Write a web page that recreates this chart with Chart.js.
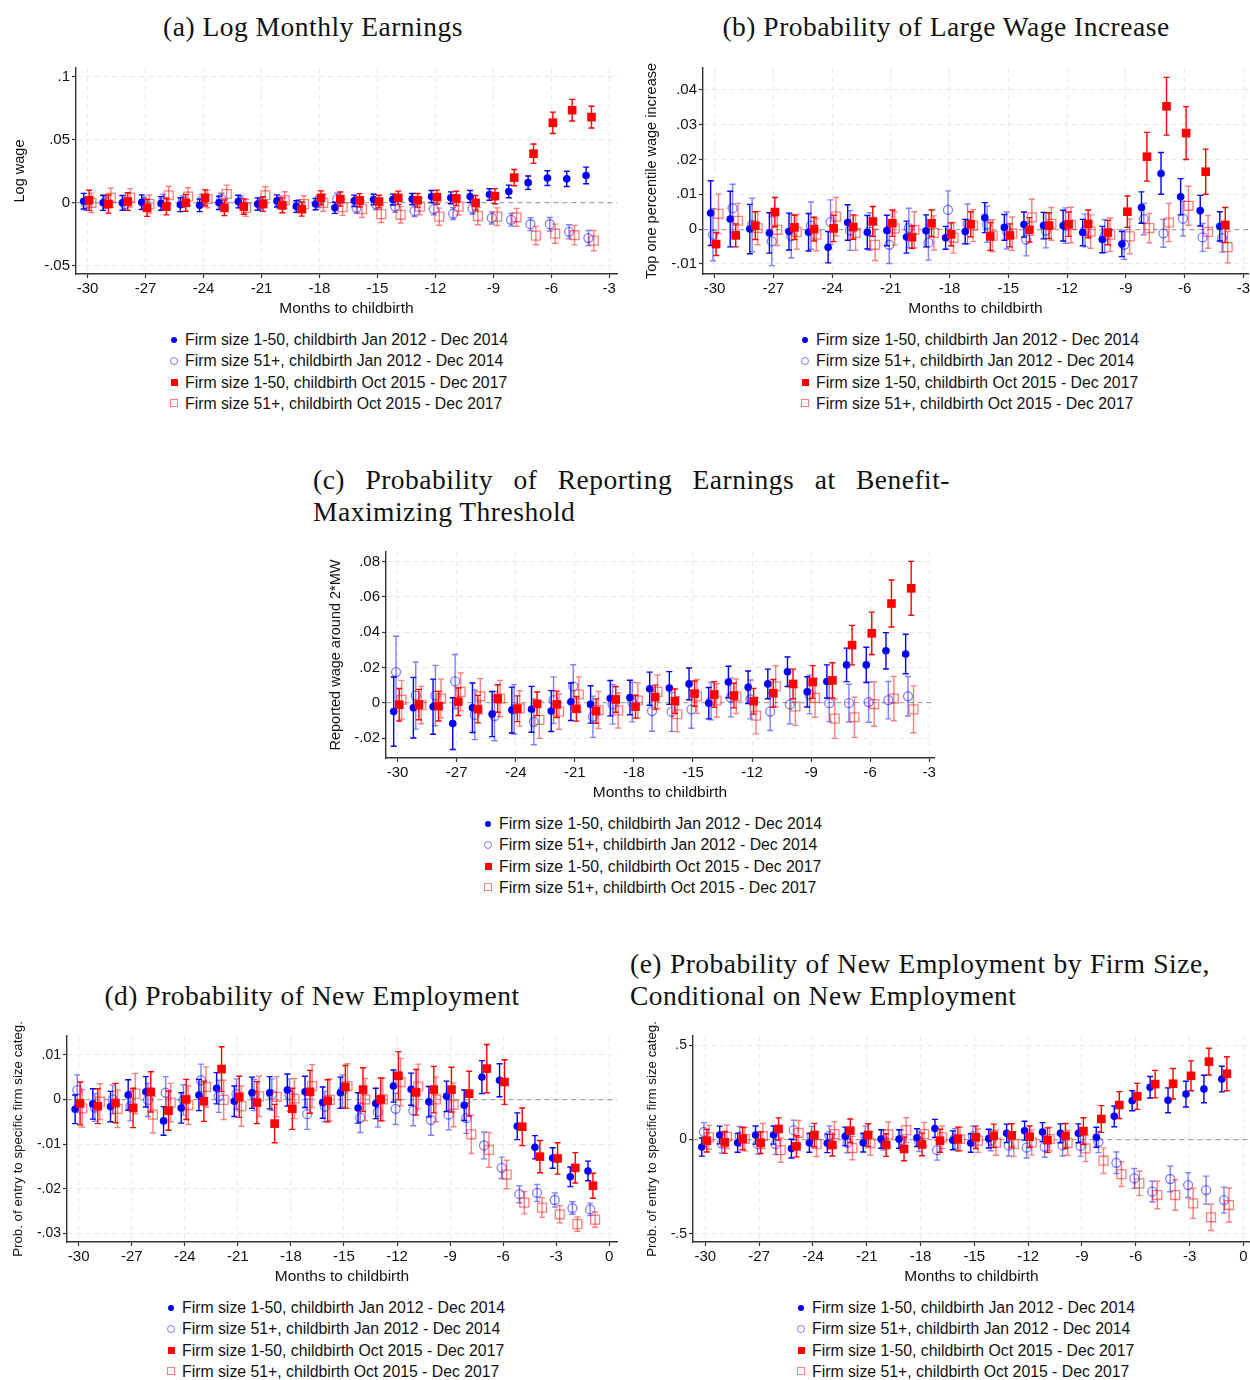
<!DOCTYPE html>
<html>
<head>
<meta charset="utf-8">
<script src="https://cdn.jsdelivr.net/npm/chart.js@4.4.1/dist/chart.umd.min.js"></script>
<style>
  html, body { margin: 0; padding: 0; background: #fff; }
  body { position: relative; width: 1250px; height: 1380px; overflow: hidden; }
  canvas { position: absolute; }
  .title { position: absolute; font-family: "Liberation Serif", "Times New Roman", serif; font-size: 27.5px;
           letter-spacing: 0.5px; line-height: 32px; color: #111; white-space: nowrap; }
  .title.center { transform: translateX(-50%); }
  .title .just { white-space: normal; text-align: justify; text-align-last: justify; }
  .legend { position: absolute; font-family: "Liberation Sans", Arial, sans-serif; font-size: 15.8px;
            line-height: 21.3px; color: #111; }
  .legend .row { position: relative; padding-left: 26px; white-space: nowrap; }
  .legend .mk { position: absolute; box-sizing: border-box; }
</style>
</head>
<body>

<div class="title center" style="left:313px; top:11px;">(a) Log Monthly Earnings</div>
<div class="title center" style="left:946px; top:11px;">(b) Probability of Large Wage Increase</div>
<div class="title" style="left:313px; top:464px; width:637px;">
  <div class="just">(c) Probability of Reporting Earnings at Benefit-</div>
  <div>Maximizing Threshold</div>
</div>
<div class="title center" style="left:312px; top:980px;">(d) Probability of New Employment</div>
<div class="title" style="left:630px; top:948px; width:580px;">
  <div class="just">(e) Probability of New Employment by Firm Size,</div>
  <div>Conditional on New Employment</div>
</div>

<canvas id="chartA" width="625" height="265" style="left:0px; top:60px;"></canvas>
<canvas id="chartB" width="618" height="265" style="left:632px; top:60px;"></canvas>
<canvas id="chartC" width="626" height="265" style="left:316px; top:544px;"></canvas>
<canvas id="chartD" width="625" height="277" style="left:0px; top:1016px;"></canvas>
<canvas id="chartE" width="618" height="277" style="left:632px; top:1016px;"></canvas>

<div class="legend" id="legA" style="left:159px; top:329px;"></div>
<div class="legend" id="legB" style="left:790px; top:329px;"></div>
<div class="legend" id="legC" style="left:473px; top:813px;"></div>
<div class="legend" id="legD" style="left:156px; top:1297px;"></div>
<div class="legend" id="legE" style="left:786px; top:1297px;"></div>

<script>
'use strict';

var seriesLabels = [
  'Firm size 1-50, childbirth Jan 2012 - Dec 2014',
  'Firm size 51+, childbirth Jan 2012 - Dec 2014',
  'Firm size 1-50, childbirth Oct 2015 - Dec 2017',
  'Firm size 51+, childbirth Oct 2015 - Dec 2017'
];

var monthsABC = [-30, -29, -28, -27, -26, -25, -24, -23, -22, -21, -20, -19, -18, -17, -16, -15, -14, -13, -12, -11, -10, -9, -8, -7, -6, -5, -4];
var monthsDE = [-30, -29, -28, -27, -26, -25, -24, -23, -22, -21, -20, -19, -18, -17, -16, -15, -14, -13, -12, -11, -10, -9, -8, -7, -6, -5, -4, -3, -2, -1];

var xTicksABC = [-30, -27, -24, -21, -18, -15, -12, -9, -6, -3];
var xTicksDE = [-30, -27, -24, -21, -18, -15, -12, -9, -6, -3, 0];

// (a) log monthly earnings
var aYTicks = [-0.05, 0, 0.05, 0.1];
var aYLabels = ['-.05', '0', '.05', '.1'];
var aBlue = [0.0013, 0.0000, 0.0000, 0.0005, -0.0005, -0.0015, -0.0020, 0.0000, 0.0010, -0.0010, 0.0015, -0.0030, -0.0010, -0.0040, 0.0016, 0.0026, 0.0026, 0.0030, 0.0050, 0.0040, 0.0050, 0.0066, 0.0090, 0.0160, 0.0196, 0.0190, 0.0217];
var aBlueErr = [0.0062, 0.0060, 0.0058, 0.0058, 0.0054, 0.0055, 0.0050, 0.0053, 0.0050, 0.0049, 0.0048, 0.0046, 0.0045, 0.0044, 0.0045, 0.0042, 0.0043, 0.0044, 0.0048, 0.0047, 0.0048, 0.0046, 0.0050, 0.0053, 0.0058, 0.0060, 0.0066];
var aLight = [-0.0010, 0.0005, -0.0010, 0.0000, 0.0020, 0.0010, 0.0020, 0.0030, 0.0010, -0.0010, 0.0000, -0.0020, 0.0005, 0.0030, -0.0040, -0.0010, -0.0030, -0.0066, -0.0050, -0.0085, -0.0045, -0.0120, -0.0135, -0.0170, -0.0170, -0.0230, -0.0280];
var aLightErr = [0.0050, 0.0048, 0.0049, 0.0046, 0.0047, 0.0045, 0.0047, 0.0046, 0.0044, 0.0045, 0.0046, 0.0044, 0.0045, 0.0046, 0.0044, 0.0045, 0.0046, 0.0044, 0.0046, 0.0047, 0.0046, 0.0048, 0.0050, 0.0051, 0.0054, 0.0056, 0.0060];
var aRed = [0.0020, -0.0010, 0.0010, -0.0040, -0.0030, 0.0000, 0.0040, -0.0040, -0.0030, -0.0010, -0.0020, -0.0050, 0.0040, 0.0030, 0.0020, 0.0010, 0.0040, 0.0020, 0.0045, 0.0035, 0.0000, 0.0053, 0.0200, 0.0390, 0.0635, 0.0735, 0.0680];
var aRedErr = [0.0080, 0.0072, 0.0070, 0.0068, 0.0066, 0.0067, 0.0063, 0.0062, 0.0061, 0.0058, 0.0059, 0.0056, 0.0055, 0.0056, 0.0053, 0.0050, 0.0053, 0.0054, 0.0056, 0.0057, 0.0058, 0.0060, 0.0065, 0.0077, 0.0085, 0.0086, 0.0086];
var aPink = [0.0000, 0.0040, 0.0040, -0.0010, 0.0060, 0.0050, 0.0030, 0.0070, -0.0040, 0.0060, 0.0020, -0.0010, 0.0000, -0.0035, -0.0050, -0.0090, -0.0095, -0.0030, -0.0110, -0.0030, -0.0105, -0.0110, -0.0115, -0.0260, -0.0245, -0.0257, -0.0300];
var aPinkErr = [0.0077, 0.0075, 0.0073, 0.0072, 0.0071, 0.0070, 0.0069, 0.0070, 0.0068, 0.0067, 0.0068, 0.0066, 0.0067, 0.0065, 0.0066, 0.0066, 0.0065, 0.0066, 0.0068, 0.0067, 0.0069, 0.0070, 0.0071, 0.0073, 0.0076, 0.0077, 0.0080];

// (b) large wage increase
var bYTicks = [-0.01, 0, 0.01, 0.02, 0.03, 0.04];
var bYLabels = ['-.01', '0', '.01', '.02', '.03', '.04'];
var bBlue = [0.0046, 0.0029, 0.0000, -0.0011, -0.0007, -0.0009, -0.0052, 0.0019, -0.0009, -0.0004, -0.0023, -0.0005, -0.0025, -0.0007, 0.0033, 0.0005, 0.0013, 0.0010, 0.0010, -0.0010, -0.0030, -0.0043, 0.0062, 0.0160, 0.0093, 0.0053, 0.0008];
var bBlueErr = [0.0093, 0.0080, 0.0071, 0.0058, 0.0053, 0.0054, 0.0045, 0.0051, 0.0048, 0.0044, 0.0046, 0.0046, 0.0033, 0.0035, 0.0043, 0.0037, 0.0036, 0.0038, 0.0044, 0.0038, 0.0038, 0.0036, 0.0045, 0.0060, 0.0052, 0.0044, 0.0042];
var bLight = [-0.0016, 0.0060, 0.0012, -0.0035, -0.0020, 0.0010, 0.0020, -0.0004, -0.0007, -0.0045, 0.0003, -0.0039, 0.0055, 0.0015, 0.0014, -0.0004, -0.0030, -0.0004, 0.0010, -0.0004, -0.0020, -0.0045, 0.0029, -0.0012, 0.0030, -0.0024, -0.0026];
var bLightErr = [0.0075, 0.0069, 0.0077, 0.0070, 0.0063, 0.0068, 0.0064, 0.0057, 0.0054, 0.0054, 0.0057, 0.0050, 0.0055, 0.0057, 0.0052, 0.0053, 0.0047, 0.0050, 0.0051, 0.0047, 0.0047, 0.0042, 0.0045, 0.0040, 0.0050, 0.0040, 0.0040];
var bRed = [-0.0043, -0.0018, 0.0010, 0.0049, 0.0005, 0.0000, 0.0002, 0.0006, 0.0022, 0.0017, -0.0023, 0.0017, -0.0015, 0.0014, -0.0021, -0.0018, -0.0002, 0.0010, 0.0014, 0.0015, -0.0010, 0.0050, 0.0208, 0.0353, 0.0276, 0.0165, 0.0012];
var bRedErr = [0.0033, 0.0033, 0.0040, 0.0042, 0.0035, 0.0034, 0.0038, 0.0035, 0.0043, 0.0038, 0.0032, 0.0038, 0.0033, 0.0036, 0.0040, 0.0033, 0.0035, 0.0037, 0.0035, 0.0040, 0.0035, 0.0045, 0.0070, 0.0083, 0.0076, 0.0065, 0.0050];
var bPink = [0.0044, 0.0024, 0.0003, -0.0002, -0.0008, -0.0016, 0.0036, -0.0011, -0.0045, 0.0002, -0.0002, -0.0011, -0.0025, 0.0010, -0.0019, -0.0013, 0.0034, 0.0015, 0.0012, -0.0007, -0.0016, -0.0021, 0.0003, 0.0019, 0.0067, -0.0008, -0.0052];
var bPinkErr = [0.0057, 0.0050, 0.0048, 0.0045, 0.0050, 0.0046, 0.0055, 0.0050, 0.0045, 0.0048, 0.0052, 0.0049, 0.0044, 0.0046, 0.0046, 0.0048, 0.0052, 0.0047, 0.0051, 0.0048, 0.0048, 0.0050, 0.0042, 0.0055, 0.0056, 0.0047, 0.0045];

// (c) earnings at benefit-maximizing threshold
var cYTicks = [-0.02, 0, 0.02, 0.04, 0.06, 0.08];
var cYLabels = ['-.02', '0', '.02', '.04', '.06', '.08'];
var cBlue = [-0.0050, -0.0028, -0.0022, -0.0118, -0.0028, -0.0064, -0.0041, -0.0037, -0.0047, 0.0006, -0.0009, 0.0026, 0.0030, 0.0080, 0.0084, 0.0107, -0.0002, 0.0118, 0.0088, 0.0107, 0.0176, 0.0062, 0.0121, 0.0215, 0.0215, 0.0295, 0.0277];
var cBlueErr = [0.0196, 0.0172, 0.0156, 0.0147, 0.0140, 0.0128, 0.0130, 0.0130, 0.0116, 0.0106, 0.0106, 0.0100, 0.0098, 0.0094, 0.0093, 0.0090, 0.0089, 0.0089, 0.0092, 0.0084, 0.0084, 0.0086, 0.0094, 0.0095, 0.0100, 0.0103, 0.0112];
var cLight = [0.0174, 0.0041, 0.0041, 0.0121, -0.0069, -0.0075, -0.0037, -0.0108, 0.0015, 0.0093, -0.0079, -0.0009, 0.0004, -0.0047, -0.0052, -0.0037, 0.0009, 0.0030, 0.0019, -0.0050, -0.0009, 0.0047, -0.0002, -0.0002, 0.0004, 0.0015, 0.0037];
var cLightErr = [0.0203, 0.0190, 0.0171, 0.0153, 0.0140, 0.0140, 0.0140, 0.0130, 0.0132, 0.0123, 0.0117, 0.0112, 0.0112, 0.0114, 0.0110, 0.0107, 0.0106, 0.0110, 0.0110, 0.0107, 0.0110, 0.0110, 0.0105, 0.0107, 0.0114, 0.0106, 0.0112];
var cRed = [-0.0011, -0.0010, -0.0019, 0.0006, -0.0036, 0.0024, -0.0034, -0.0006, -0.0009, -0.0034, -0.0047, 0.0019, -0.0022, 0.0032, 0.0009, 0.0052, 0.0047, 0.0041, 0.0009, 0.0054, 0.0107, 0.0118, 0.0127, 0.0327, 0.0394, 0.0563, 0.0649];
var cRedErr = [0.0092, 0.0086, 0.0084, 0.0078, 0.0078, 0.0078, 0.0073, 0.0067, 0.0075, 0.0070, 0.0069, 0.0073, 0.0065, 0.0068, 0.0069, 0.0072, 0.0073, 0.0070, 0.0073, 0.0078, 0.0084, 0.0093, 0.0100, 0.0112, 0.0120, 0.0133, 0.0153];
var cPink = [0.0017, -0.0013, 0.0024, 0.0062, 0.0037, 0.0024, -0.0032, -0.0097, -0.0050, 0.0047, -0.0041, -0.0043, 0.0013, 0.0062, -0.0065, 0.0036, 0.0013, 0.0037, -0.0073, 0.0093, -0.0021, 0.0028, -0.0090, -0.0082, -0.0007, 0.0024, -0.0037];
var cPinkErr = [0.0110, 0.0106, 0.0110, 0.0107, 0.0100, 0.0103, 0.0100, 0.0105, 0.0100, 0.0100, 0.0105, 0.0100, 0.0100, 0.0096, 0.0100, 0.0096, 0.0095, 0.0098, 0.0103, 0.0117, 0.0107, 0.0110, 0.0112, 0.0114, 0.0126, 0.0126, 0.0133];

// (d) new employment
var dYTicks = [-0.03, -0.02, -0.01, 0, 0.01];
var dYLabels = ['-.03', '-.02', '-.01', '0', '.01'];
var dBlue = [-0.0022, -0.0010, -0.0016, 0.0010, 0.0017, -0.0048, -0.0019, 0.0010, 0.0025, -0.0004, 0.0015, 0.0015, 0.0021, 0.0017, -0.0007, 0.0015, -0.0019, -0.0009, 0.0030, 0.0023, -0.0005, 0.0007, -0.0013, 0.0050, 0.0043, -0.0060, -0.0107, -0.0131, -0.0173, -0.0160];
var dBlueErr = [0.0032, 0.0034, 0.0034, 0.0034, 0.0034, 0.0032, 0.0034, 0.0035, 0.0035, 0.0034, 0.0035, 0.0036, 0.0036, 0.0035, 0.0035, 0.0035, 0.0034, 0.0034, 0.0036, 0.0036, 0.0034, 0.0034, 0.0034, 0.0037, 0.0037, 0.0030, 0.0026, 0.0023, 0.0022, 0.0022];
var dLight = [0.0021, -0.0018, 0.0000, -0.0015, -0.0001, 0.0015, -0.0001, 0.0043, 0.0007, 0.0012, 0.0010, 0.0011, 0.0010, -0.0033, -0.0016, 0.0019, -0.0041, -0.0028, -0.0021, -0.0025, -0.0046, -0.0034, -0.0042, -0.0103, -0.0153, -0.0212, -0.0209, -0.0225, -0.0243, -0.0246];
var dLightErr = [0.0034, 0.0031, 0.0032, 0.0033, 0.0037, 0.0036, 0.0034, 0.0036, 0.0036, 0.0034, 0.0035, 0.0035, 0.0036, 0.0034, 0.0034, 0.0036, 0.0033, 0.0034, 0.0035, 0.0034, 0.0034, 0.0034, 0.0034, 0.0030, 0.0024, 0.0019, 0.0019, 0.0016, 0.0014, 0.0014];
var dRed = [-0.0009, -0.0015, -0.0008, -0.0019, 0.0017, -0.0025, 0.0000, -0.0004, 0.0068, 0.0006, -0.0007, -0.0054, -0.0021, 0.0017, -0.0003, 0.0028, 0.0022, 0.0000, 0.0053, 0.0016, 0.0022, 0.0022, 0.0013, 0.0069, 0.0039, -0.0061, -0.0128, -0.0132, -0.0153, -0.0193];
var dRedErr = [0.0048, 0.0039, 0.0044, 0.0044, 0.0045, 0.0044, 0.0045, 0.0045, 0.0050, 0.0046, 0.0047, 0.0043, 0.0046, 0.0048, 0.0047, 0.0048, 0.0049, 0.0048, 0.0054, 0.0051, 0.0052, 0.0050, 0.0050, 0.0054, 0.0050, 0.0042, 0.0036, 0.0035, 0.0034, 0.0028];
var dPink = [-0.0020, -0.0005, -0.0021, 0.0013, -0.0034, -0.0007, -0.0013, 0.0028, -0.0001, -0.0015, 0.0007, 0.0006, 0.0002, 0.0030, -0.0001, 0.0030, 0.0000, 0.0000, 0.0039, 0.0029, 0.0000, -0.0012, -0.0078, -0.0113, -0.0168, -0.0231, -0.0242, -0.0257, -0.0279, -0.0269];
var dPinkErr = [0.0042, 0.0040, 0.0042, 0.0045, 0.0041, 0.0043, 0.0043, 0.0045, 0.0044, 0.0045, 0.0045, 0.0045, 0.0045, 0.0048, 0.0047, 0.0050, 0.0047, 0.0048, 0.0053, 0.0050, 0.0050, 0.0049, 0.0043, 0.0039, 0.0032, 0.0025, 0.0022, 0.0019, 0.0016, 0.0017];

// (e) new employment by firm size, conditional on new employment
var eYTicks = [-0.5, 0, 0.5];
var eYLabels = ['-.5', '0', '.5'];
var eBlue = [-0.041, 0.023, -0.018, 0.023, 0.023, -0.049, -0.018, -0.021, 0.016, -0.018, 0.002, 0.002, 0.009, 0.058, -0.005, -0.019, 0.004, 0.032, 0.046, 0.039, 0.032, 0.032, 0.011, 0.122, 0.205, 0.276, 0.207, 0.240, 0.267, 0.320];
var eBlueErr = [0.048, 0.047, 0.050, 0.048, 0.048, 0.050, 0.050, 0.049, 0.049, 0.049, 0.049, 0.049, 0.047, 0.048, 0.050, 0.049, 0.050, 0.049, 0.050, 0.050, 0.050, 0.050, 0.053, 0.055, 0.053, 0.057, 0.066, 0.068, 0.073, 0.068];
var eLight = [0.039, -0.022, 0.016, -0.025, -0.025, 0.049, 0.016, 0.019, -0.018, 0.016, -0.004, -0.003, -0.011, -0.057, 0.004, 0.017, -0.006, -0.032, -0.044, -0.039, -0.032, -0.035, -0.014, -0.124, -0.207, -0.277, -0.210, -0.242, -0.269, -0.322];
var eLightErr = [0.050, 0.050, 0.052, 0.053, 0.055, 0.053, 0.053, 0.052, 0.053, 0.054, 0.053, 0.053, 0.053, 0.053, 0.053, 0.053, 0.054, 0.056, 0.055, 0.056, 0.056, 0.055, 0.056, 0.057, 0.053, 0.055, 0.068, 0.066, 0.074, 0.069];
var eRed = [-0.007, -0.016, 0.004, -0.018, 0.055, -0.037, 0.023, -0.030, 0.046, 0.023, -0.030, -0.051, -0.027, -0.007, 0.002, 0.011, 0.019, 0.021, 0.014, -0.004, 0.018, 0.044, 0.108, 0.182, 0.228, 0.293, 0.295, 0.337, 0.412, 0.348];
var eRedErr = [0.060, 0.058, 0.059, 0.057, 0.059, 0.056, 0.062, 0.058, 0.062, 0.060, 0.060, 0.062, 0.060, 0.061, 0.063, 0.059, 0.062, 0.062, 0.057, 0.065, 0.066, 0.071, 0.071, 0.071, 0.069, 0.073, 0.081, 0.079, 0.071, 0.090];
var ePink = [0.011, 0.014, 0.002, 0.018, -0.057, 0.035, -0.025, 0.028, -0.046, -0.021, 0.026, 0.049, 0.028, 0.011, 0.002, -0.007, -0.018, -0.025, -0.016, 0.002, -0.018, -0.048, -0.113, -0.184, -0.233, -0.295, -0.295, -0.339, -0.413, -0.348];
var ePinkErr = [0.063, 0.062, 0.062, 0.066, 0.064, 0.065, 0.066, 0.066, 0.062, 0.063, 0.066, 0.066, 0.062, 0.060, 0.062, 0.062, 0.066, 0.066, 0.066, 0.062, 0.066, 0.070, 0.068, 0.066, 0.065, 0.073, 0.081, 0.080, 0.070, 0.090];

// horizontal shift of each series around its month, in months
var seriesOffsets = [-0.2, -0.08, 0.08, 0.2];

var seriesStyles = [
  { pointStyle: 'circle', pointRadius: 3.8, backgroundColor: '#0000ff', borderColor: '#0000ff', borderWidth: 0, barColor: '#0000ff', order: 4 },
  { pointStyle: 'circle', pointRadius: 4.5, backgroundColor: 'rgba(0,0,0,0)', borderColor: 'rgba(0,0,255,0.5)', borderWidth: 1.3, barColor: 'rgba(0,0,255,0.5)', order: 3 },
  { pointStyle: 'rect', pointRadius: 6.1, backgroundColor: '#ff0000', borderColor: '#ff0000', borderWidth: 0, barColor: '#ff0000', order: 2 },
  { pointStyle: 'rect', pointRadius: 6.3, backgroundColor: 'rgba(0,0,0,0)', borderColor: 'rgba(255,0,0,0.5)', borderWidth: 1.3, barColor: 'rgba(255,0,0,0.5)', order: 1 }
];

var fontSans = '"Liberation Sans", Arial, sans-serif';

var errorBars = {
  id: 'errorBars',
  beforeDatasetDraw: function (chart, args) {
    var ds = chart.data.datasets[args.index];
    if (!ds.err) return;
    var ys = chart.scales.y;
    var ctx = chart.ctx;
    var cap = 3;
    ctx.save();
    ctx.strokeStyle = ds.barColor;
    ctx.lineWidth = 1.4;
    args.meta.data.forEach(function (pt, i) {
      var v = ds.data[i].y, e = ds.err[i];
      var top = ys.getPixelForValue(v + e), bot = ys.getPixelForValue(v - e);
      ctx.beginPath();
      ctx.moveTo(pt.x, top); ctx.lineTo(pt.x, bot);
      ctx.moveTo(pt.x - cap, top); ctx.lineTo(pt.x + cap, top);
      ctx.moveTo(pt.x - cap, bot); ctx.lineTo(pt.x + cap, bot);
      ctx.stroke();
    });
    ctx.restore();
  }
};

function makePanel(id, p) {
  var datasets = p.series.map(function (s, k) {
    return Object.assign({
      label: seriesLabels[k],
      data: p.months.map(function (m, i) { return { x: m + seriesOffsets[k], y: s[0][i] }; }),
      err: s[1]
    }, seriesStyles[k]);
  });

  new Chart(document.getElementById(id).getContext('2d'), {
    type: 'scatter',
    data: { datasets: datasets },
    plugins: [errorBars],
    options: {
      animation: false,
      responsive: false,
      maintainAspectRatio: false,
      events: [],
      layout: { autoPadding: false, padding: { top: p.padTop, right: p.padRight, left: 0, bottom: 0 } },
      plugins: { legend: { display: false }, tooltip: { enabled: false } },
      scales: {
        x: {
          type: 'linear', min: p.xMin, max: p.xMax,
          afterBuildTicks: function (ax) { ax.ticks = p.xTicks.map(function (v) { return { value: v }; }); },
          afterFit: function (ax) { ax.height = 51; ax.paddingLeft = 0; ax.paddingRight = 0; },
          grid: { color: '#e9e9e9', lineWidth: 1, tickLength: 4, tickColor: '#333', tickWidth: 1.2 },
          border: { display: true, color: '#333', width: 1.4, dash: [5, 4] },
          ticks: { autoSkip: false, maxRotation: 0, padding: 2, color: '#111', font: { family: fontSans, size: 15 },
                   callback: function (v) { return String(v); } },
          title: { display: true, text: 'Months to childbirth', color: '#111', font: { family: fontSans, size: 15.5 },
                   padding: { top: 0, bottom: 6.7 } }
        },
        y: {
          type: 'linear', min: p.yMin, max: p.yMax,
          afterBuildTicks: function (ax) { ax.ticks = p.yTicks.map(function (v) { return { value: v }; }); },
          afterFit: function (ax) { ax.width = p.yAxisW; ax.paddingTop = 0; ax.paddingBottom = 0; },
          grid: {
            color: function (c) { return c.tick && c.tick.value === 0 ? '#a3a3a3' : '#e9e9e9'; },
            lineWidth: function (c) { return c.tick && c.tick.value === 0 ? 1.2 : 1; },
            tickLength: 4, tickColor: '#333', tickWidth: 1.2
          },
          border: { display: true, color: '#333', width: 1.4, dash: [5, 4] },
          ticks: { autoSkip: false, padding: 2, color: '#111', font: { family: fontSans, size: p.yTickSize },
                   callback: function (v, i) { return p.yLabels[i]; } },
          title: { display: true, text: p.yTitle, color: '#111', font: { family: fontSans, size: p.yTitleSize },
                   padding: { top: p.yTitlePad, bottom: 0 } }
        }
      }
    }
  });
}

function buildLegend(id) {
  var box = document.getElementById(id);
  var marks = [
    'width:6px;height:6px;border-radius:50%;background:#0000ff;left:12px;top:7.6px;',
    'width:8px;height:8px;border-radius:50%;border:1px solid rgba(0,0,255,0.5);left:11px;top:6.6px;',
    'width:7px;height:7px;background:#ff0000;left:11.5px;top:7.1px;',
    'width:8px;height:8px;border:1px solid rgba(255,0,0,0.5);left:11px;top:6.6px;'
  ];
  seriesLabels.forEach(function (txt, k) {
    var row = document.createElement('div');
    row.className = 'row';
    var mk = document.createElement('span');
    mk.className = 'mk';
    mk.setAttribute('style', marks[k]);
    row.appendChild(mk);
    row.appendChild(document.createTextNode(txt));
    box.appendChild(row);
  });
}

makePanel('chartA', {
  months: monthsABC, xTicks: xTicksABC, xMin: -30.6, xMax: -2.6,
  yTicks: aYTicks, yLabels: aYLabels, yMin: -0.0565, yMax: 0.107,
  yTitle: 'Log wage', yTitleSize: 14.5, yTitlePad: 11, yTickSize: 15, yAxisW: 76, padTop: 8, padRight: 8,
  series: [[aBlue, aBlueErr], [aLight, aLightErr], [aRed, aRedErr], [aPink, aPinkErr]]
});
makePanel('chartB', {
  months: monthsABC, xTicks: xTicksABC, xMin: -30.59, xMax: -2.76,
  yTicks: bYTicks, yLabels: bYLabels, yMin: -0.0129, yMax: 0.0463,
  yTitle: 'Top one percentile wage increase', yTitleSize: 14.5, yTitlePad: 11.3, yTickSize: 15, yAxisW: 71, padTop: 8, padRight: 2,
  series: [[bBlue, bBlueErr], [bLight, bLightErr], [bRed, bRedErr], [bPink, bPinkErr]]
});
makePanel('chartC', {
  months: monthsABC, xTicks: xTicksABC, xMin: -30.59, xMax: -2.76,
  yTicks: cYTicks, yLabels: cYLabels, yMin: -0.0313, yMax: 0.0855,
  yTitle: 'Reported wage around 2*MW', yTitleSize: 14.5, yTitlePad: 11.3, yTickSize: 15, yAxisW: 70, padTop: 8, padRight: 8,
  series: [[cBlue, cBlueErr], [cLight, cLightErr], [cRed, cRedErr], [cPink, cPinkErr]]
});
makePanel('chartD', {
  months: monthsDE, xTicks: xTicksDE, xMin: -30.66, xMax: 0.44,
  yTicks: dYTicks, yLabels: dYLabels, yMin: -0.0319, yMax: 0.0142,
  yTitle: 'Prob. of entry to specific firm size categ.', yTitleSize: 13.3, yTitlePad: 10, yTickSize: 14, yAxisW: 67, padTop: 20, padRight: 8,
  series: [[dBlue, dBlueErr], [dLight, dLightErr], [dRed, dRedErr], [dPink, dPinkErr]]
});
makePanel('chartE', {
  months: monthsDE, xTicks: xTicksDE, xMin: -30.69, xMax: 0.37,
  yTicks: eYTicks, yLabels: eYLabels, yMin: -0.544, yMax: 0.548,
  yTitle: 'Prob. of entry to specific firm size categ.', yTitleSize: 13.3, yTitlePad: 12, yTickSize: 14, yAxisW: 61, padTop: 20, padRight: 0,
  series: [[eBlue, eBlueErr], [eLight, eLightErr], [eRed, eRedErr], [ePink, ePinkErr]]
});

['legA', 'legB', 'legC', 'legD', 'legE'].forEach(buildLegend);
</script>
</body>
</html>
